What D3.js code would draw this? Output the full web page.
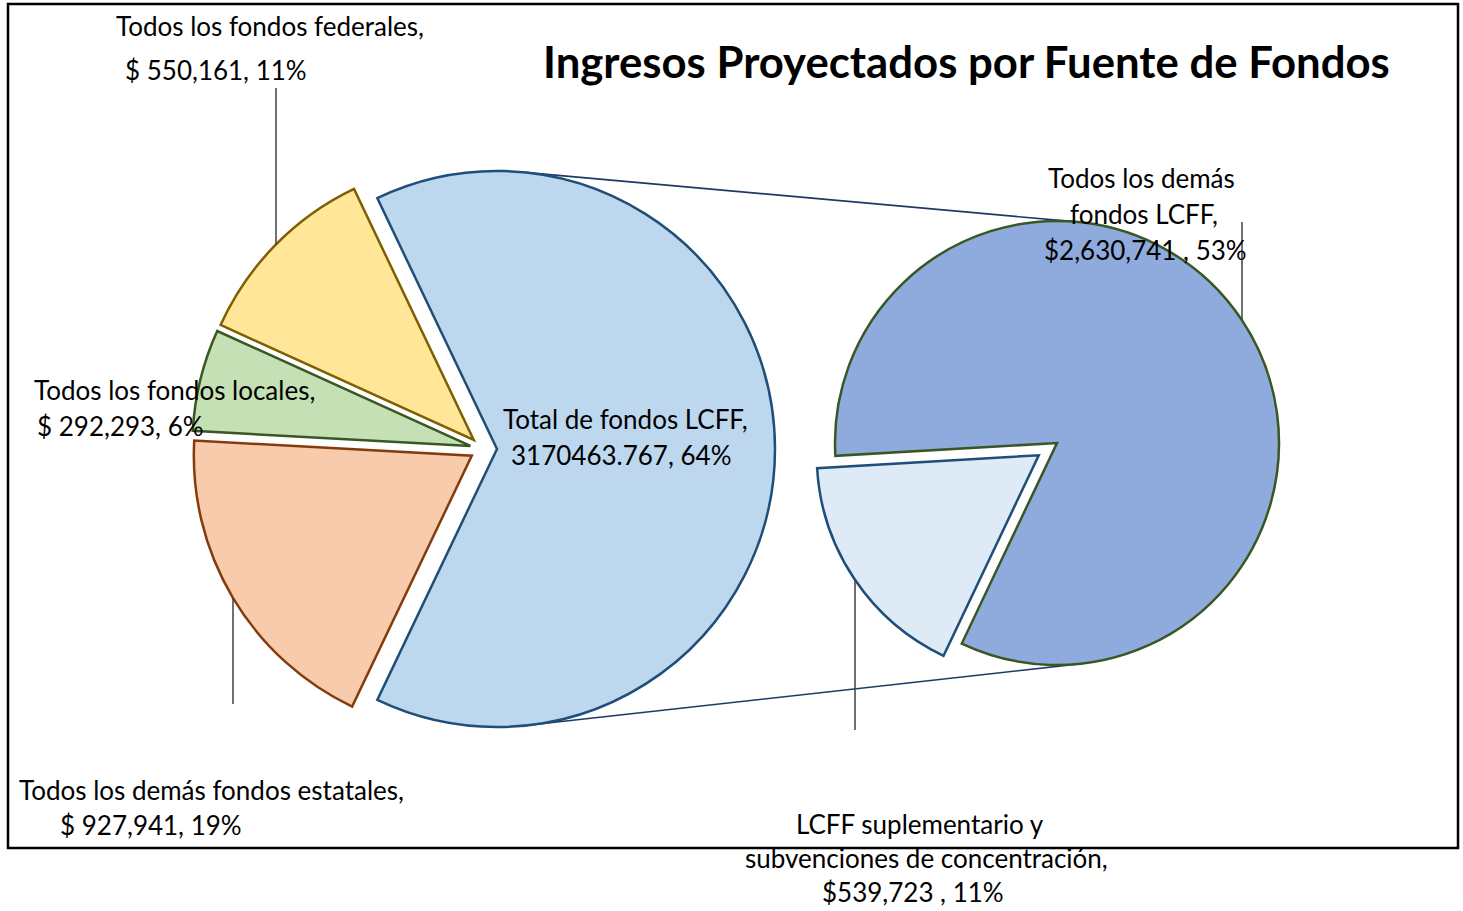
<!DOCTYPE html>
<html>
<head>
<meta charset="utf-8">
<script src="https://cdn.jsdelivr.net/npm/d3@7"></script>
<style>
  html, body { margin: 0; padding: 0; background: #fff; }
  svg text { font-family: Lato, "Open Sans", sans-serif; fill: #000; }
</style>
</head>
<body>
<div id="chart"></div>
<script>
// Main pie (LCFF total is the slice that gets split out)
var mainCategories = ["Total de fondos LCFF", "Todos los demás fondos estatales", "Todos los fondos locales", "Todos los fondos federales"];
var mainValues = [3170463.767, 927941, 292293, 550161];
// Secondary pie (breakdown of LCFF)
var subCategories = ["LCFF suplementario y subvenciones de concentración", "Todos los demás fondos LCFF"];
var subValues = [539723, 2630741];

var titleText = "Ingresos Proyectados por Fuente de Fondos";
var mainLabelLines = [
  ["Total de fondos LCFF,", "3170463.767, 64%"],
  ["Todos los demás fondos estatales,", "$ 927,941, 19%"],
  ["Todos los fondos locales,", "$ 292,293, 6%"],
  ["Todos los fondos federales,", "$ 550,161, 11%"]
];
var subLabelLines = [
  ["LCFF suplementario y", "subvenciones de concentración,", "$539,723 , 11%"],
  ["Todos los demás", "fondos LCFF,", "$2,630,741 , 53%"]
];

// styles and layout, kept apart from the data
var mainFill = ["#BDD7EE", "#F8CBAD", "#C5E0B4", "#FFE699"];
var mainStroke = ["#1F4E79", "#843C0C", "#385723", "#7F6000"];
var subFill = ["#DEEBF7", "#8FAADC"];
var subStroke = ["#1F4E79", "#385723"];
var mainExplode = [14, 13, 13, 13];
var subExplode = [22, 0];

var W = 1463, H = 911;
var mainCenter = [483, 449], mainR = 278;
var subCenter = [1057, 443], subR = 222;
var subStartDeg = 205.4;

// label boxes: x of each line start, baseline of first line, line step
var mainLabelPos = [
  {xs: [503, 511], y: 429, dy: 36},
  {xs: [19, 60], y: 800, dy: 35},
  {xs: [34, 37], y: 400, dy: 36},
  {xs: [116, 125], y: 36, dy: 44}
];
var subLabelPos = [
  {xs: [796, 745, 822], y: 834, dy: 34},
  {xs: [1048, 1070, 1044], y: 188, dy: 36}
];
// leader lines: x of the vertical line and the free end y
var mainLeaders = [null, {x: 233, y: 704}, null, {x: 276, y: 88}];
var subLeaders = [{x: 855, y: 730}, {x: 1242, y: 222}];

var svg = d3.select("#chart").append("svg").attr("width", W).attr("height", H);
svg.append("rect").attr("width", W).attr("height", H).attr("fill", "#fff");

// chart frame
svg.append("rect").attr("x", 8).attr("y", 4).attr("width", 1450).attr("height", 844)
  .attr("fill", "none").attr("stroke", "#000").attr("stroke-width", 2.5);

var mainTotal = d3.sum(mainValues);
var lcffShare = mainValues[0] / mainTotal;
var mainStart = Math.PI / 2 - Math.PI * lcffShare;

var mainArcs = d3.pie().sort(null).startAngle(mainStart).endAngle(mainStart + 2 * Math.PI)(mainValues);
var subStart = subStartDeg * Math.PI / 180;
var subArcs = d3.pie().sort(null).startAngle(subStart).endAngle(subStart + 2 * Math.PI)(subValues);

function sliceCenter(base, d, explode) {
  var mid = (d.startAngle + d.endAngle) / 2;
  return [base[0] + explode * Math.sin(mid), base[1] - explode * Math.cos(mid)];
}

var mainCenters = mainArcs.map(function(d, i) { return sliceCenter(mainCenter, d, mainExplode[i]); });
var subCenters = subArcs.map(function(d, i) { return sliceCenter(subCenter, d, subExplode[i]); });

// connector lines: outer tangents between the LCFF slice and the secondary pie
var c1 = mainCenters[0], c2 = subCenter;
var dx = c2[0] - c1[0], dy = c2[1] - c1[1], dist = Math.sqrt(dx * dx + dy * dy);
var ux = dx / dist, uy = dy / dist, vx = uy, vy = -ux;
var cc = (mainR - subR) / dist, ss = Math.sqrt(1 - cc * cc);
[1, -1].forEach(function(sign) {
  var nx = cc * ux + sign * ss * vx, ny = cc * uy + sign * ss * vy;
  svg.append("line")
    .attr("x1", c1[0] + mainR * nx).attr("y1", c1[1] + mainR * ny)
    .attr("x2", c2[0] + subR * nx).attr("y2", c2[1] + subR * ny)
    .attr("stroke", "#1F3864").attr("stroke-width", 1.6);
});

var mainArc = d3.arc().innerRadius(0).outerRadius(mainR);
var subArc = d3.arc().innerRadius(0).outerRadius(subR);

svg.append("g").selectAll("path").data(mainArcs).join("path")
  .attr("transform", function(d, i) { return "translate(" + mainCenters[i] + ")"; })
  .attr("d", mainArc)
  .attr("fill", function(d, i) { return mainFill[i]; })
  .attr("stroke", function(d, i) { return mainStroke[i]; })
  .attr("stroke-width", 2.5).attr("stroke-linejoin", "miter");

svg.append("g").selectAll("path").data(subArcs).join("path")
  .attr("transform", function(d, i) { return "translate(" + subCenters[i] + ")"; })
  .attr("d", subArc)
  .attr("fill", function(d, i) { return subFill[i]; })
  .attr("stroke", function(d, i) { return subStroke[i]; })
  .attr("stroke-width", 2.5).attr("stroke-linejoin", "miter");

// vertical leader lines end where they meet the slice's arc
function drawLeader(leader, center, r) {
  if (!leader) return;
  var off = leader.x - center[0];
  var h = Math.sqrt(r * r - off * off);
  var yArc = leader.y < center[1] ? center[1] - h : center[1] + h;
  svg.append("line").attr("x1", leader.x).attr("x2", leader.x)
    .attr("y1", leader.y).attr("y2", yArc)
    .attr("stroke", "#404040").attr("stroke-width", 1.5);
}
mainLeaders.forEach(function(l, i) { drawLeader(l, mainCenters[i], mainR); });
subLeaders.forEach(function(l, i) { drawLeader(l, subCenters[i], subR); });

function drawLabel(lines, pos) {
  var t = svg.append("text").attr("font-size", 26);
  lines.forEach(function(line, j) {
    t.append("tspan").attr("x", pos.xs[j]).attr("y", pos.y + j * pos.dy).text(line);
  });
}
mainLabelLines.forEach(function(lines, i) { drawLabel(lines, mainLabelPos[i]); });
subLabelLines.forEach(function(lines, i) { drawLabel(lines, subLabelPos[i]); });

svg.append("text").attr("x", 543).attr("y", 78)
  .attr("font-size", 43.7).attr("font-weight", "bold")
  .text(titleText);
</script>
</body>
</html>
